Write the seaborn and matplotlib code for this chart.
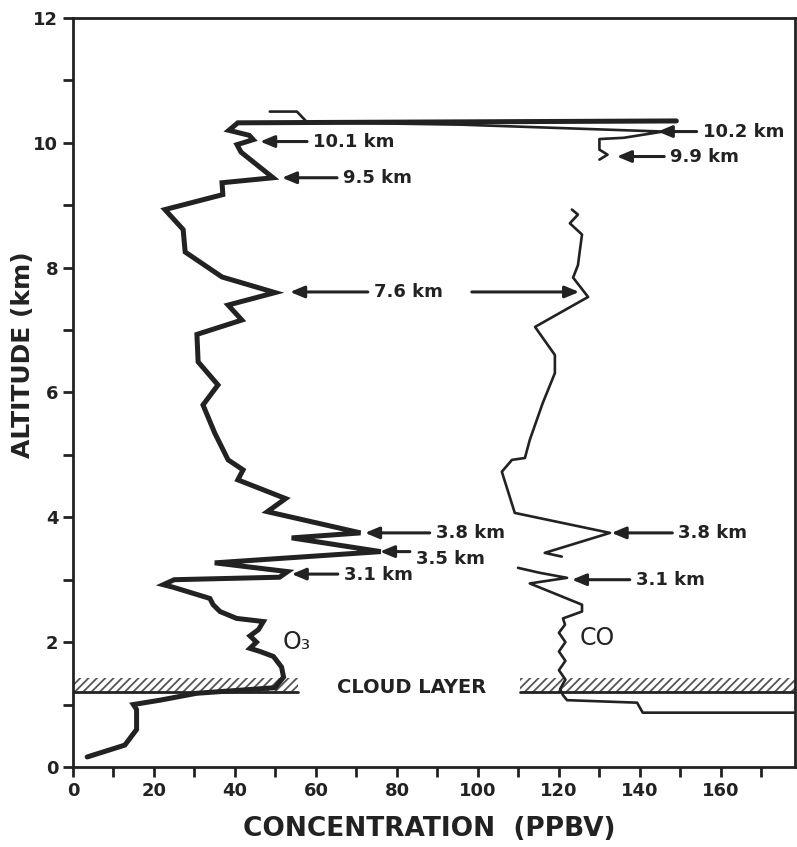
"""Vertical O3 / CO profiles with cloud layer and marked layers."""

import numpy as np
import pandas as pd
import matplotlib
matplotlib.use("Agg")
import matplotlib.pyplot as plt
from matplotlib.patches import Rectangle
import seaborn as sns

# ---- data ----
o3_conc = [3.5, 12.8, 15.7, 15.7, 14.9, 21.5, 30.5, 49.9, 52.0, 51.5, 49.5, 46.2,
           43.7, 45.3, 43.7, 45.8, 47.0, 40.4, 36.3, 34.6, 33.8, 24.7, 22.3, 25.0,
           51.0, 53.0, 35.0, 76.0, 54.0, 71.0, 48.0, 52.5, 40.7, 42.0, 38.3, 35.0,
           32.1, 35.8, 30.9, 30.6, 41.7, 38.3, 49.9, 36.8, 27.7, 27.2, 22.7, 37.0,
           36.8, 49.4, 41.5, 40.5, 44.5, 43.5, 38.5, 40.7, 149.0]
o3_alt = [0.16, 0.35, 0.60, 0.92, 1.00, 1.07, 1.18, 1.27, 1.44, 1.60, 1.77, 1.85,
          1.90, 2.00, 2.10, 2.20, 2.33, 2.38, 2.49, 2.60, 2.70, 2.88, 2.92, 3.00,
          3.04, 3.13, 3.27, 3.45, 3.67, 3.75, 4.09, 4.30, 4.60, 4.76, 4.92, 5.35,
          5.80, 6.12, 6.49, 6.93, 7.16, 7.40, 7.60, 7.85, 8.25, 8.61, 8.93, 9.17,
          9.36, 9.44, 9.85, 9.97, 10.05, 10.12, 10.20, 10.32, 10.35]

co_conc = [178.0, 140.7, 139.3, 122.0, 121.0, 120.3, 121.6, 120.0, 121.6, 120.0,
           121.6, 120.0, 121.5, 121.0, 125.7, 125.7, 118.5, 112.8, 122.0, 115.3, 109.9,
           120.7, 116.5, 132.6, 109.1, 105.9, 108.4, 111.6, 112.8, 116.0, 119.0, 119.0,
           114.1, 127.2, 123.5, 124.7, 125.2, 125.7, 122.7, 124.7, 123.2,
           130.0, 132.0, 130.0, 130.0, 136.0, 145.7, 96.0, 57.8, 55.3, 48.6]
co_alt = [0.87, 0.87, 1.03, 1.07, 1.15, 1.25, 1.40, 1.55, 1.70, 1.85,
          2.00, 2.15, 2.28, 2.38, 2.49, 2.60, 2.79, 2.94, 3.03, 3.11, 3.19,
          3.37, 3.43, 3.75, 4.07, 4.73, 4.92, 4.95, 5.24, 5.83, 6.31, 6.60,
          7.05, 7.53, 7.84, 8.04, 8.29, 8.53, 8.71, 8.85, 8.93,
          9.73, 9.81, 9.89, 10.06, 10.08, 10.18, 10.29, 10.33, 10.50, 10.50]
co_segment = [0] * 21 + [1] * 20 + [2] * 10

# marked layers: label, arrow tip (ppbv), arrow tail (ppbv), altitude (km)
mark_labels = ["10.1 km", "9.5 km", "7.6 km", "10.2 km", "9.9 km",
               "3.8 km", "3.5 km", "3.1 km", "3.8 km", "3.1 km"]
mark_tip = [46.2, 51.6, 53.6, 144.4, 134.3, 72.1, 75.8, 54.0, 133.0, 123.2]
mark_tail = [57.8, 65.2, 72.8, 154.0, 146.0, 88.1, 83.2, 65.4, 148.0, 137.5]
mark_alt = [10.02, 9.44, 7.61, 10.18, 9.78, 3.75, 3.45, 3.09, 3.75, 3.00]
mark_text_alt = [10.02, 9.44, 7.61, 10.18, 9.78, 3.75, 3.33, 3.07, 3.75, 3.00]

cloud_base, cloud_top = 1.2, 1.42
cloud_spans = [(0, 55.5), (110.3, 178.3)]

o3_df = pd.DataFrame({"conc": o3_conc, "alt": o3_alt})
co_df = pd.DataFrame({"conc": co_conc, "alt": co_alt, "seg": co_segment})

# ---- style ----
sns.set_style("ticks")
plt.rcParams["font.family"] = ["DejaVu Sans"]
plt.rcParams["hatch.linewidth"] = 1.3
ink = "#222222"

fig = plt.figure(figsize=(7.97, 8.47), dpi=100)
ax = fig.add_axes([0.0916, 0.0945, 0.9059, 0.8843])

sns.lineplot(data=o3_df, x="conc", y="alt", sort=False, estimator=None,
             color=ink, lw=3.6, ax=ax, solid_joinstyle="miter", solid_capstyle="round")
sns.lineplot(data=co_df, x="conc", y="alt", units="seg", sort=False, estimator=None,
             color=ink, lw=1.9, ax=ax)

# cloud layer
for x0, x1 in cloud_spans:
    ax.add_patch(Rectangle((x0, cloud_base), x1 - x0, cloud_top - cloud_base,
                           fill=False, hatch="////", edgecolor="#555555", lw=0))
    ax.plot([x0, x1], [cloud_base, cloud_base], color=ink, lw=2)
ax.text(83.7, 1.28, "CLOUD LAYER", ha="center", va="center",
        fontsize=14, fontweight="bold", color=ink)

# arrows + labels
arrow_kw = dict(arrowstyle="-|>,head_length=0.6,head_width=0.25",
                lw=2.2, color=ink, shrinkA=0, shrinkB=0, mutation_scale=14)
for lab, tip, tail, y, ty in zip(mark_labels, mark_tip, mark_tail, mark_alt, mark_text_alt):
    ax.annotate("", xy=(tip, y), xytext=(tail, y), arrowprops=arrow_kw)
    ax.text(tail + 1.5, ty, lab, ha="left", va="center",
            fontsize=13, fontweight="bold", color=ink)
# 7.6 km also points to the CO curve
ax.annotate("", xy=(125.0, 7.61), xytext=(98.5, 7.61), arrowprops=arrow_kw)

ax.text(51.8, 2.0, "O₃", ha="left", va="center", fontsize=17, color=ink)
ax.text(125.0, 2.07, "CO", ha="left", va="center", fontsize=17, color=ink)

# axes
ax.set_xlim(0, 178.3)
ax.set_ylim(0, 12)
ax.set_xticks(np.arange(0, 161, 20))
ax.set_xticks(np.arange(0, 179, 10), minor=True)
ax.set_yticks(np.arange(0, 13, 2))
ax.set_yticks(np.arange(0, 13, 1), minor=True)
ax.tick_params(which="both", direction="out", length=7, width=2, color=ink,
               labelsize=13, labelcolor=ink)
for lbl in ax.get_xticklabels() + ax.get_yticklabels():
    lbl.set_fontweight("bold")
for sp in ax.spines.values():
    sp.set_linewidth(2)
    sp.set_color(ink)

ax.set_xlabel("CONCENTRATION  (PPBV)", fontsize=19, fontweight="bold", color=ink)
ax.set_ylabel("ALTITUDE (km)", fontsize=18, fontweight="bold", color=ink)
ax.xaxis.set_label_coords(0.494, -0.066)
ax.yaxis.set_label_coords(-0.052, 0.55)
ax.grid(False)

fig.savefig("out.png", dpi=100)
